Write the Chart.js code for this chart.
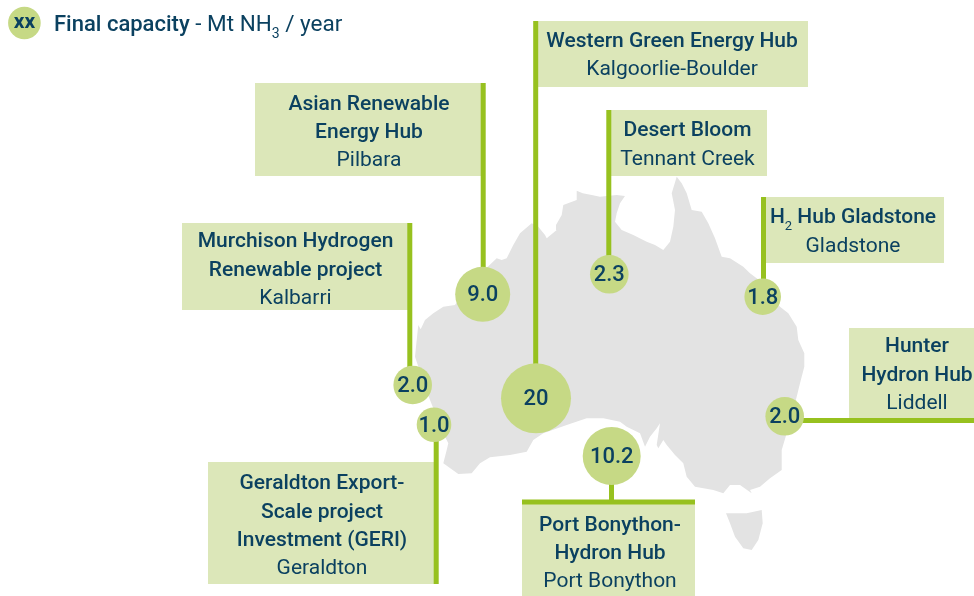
<!DOCTYPE html>
<html>
<head>
<meta charset="utf-8">
<title>Final capacity - Mt NH3 / year</title>
<script src="https://cdn.jsdelivr.net/npm/chart.js@4"></script>
<style>
html, body { margin: 0; padding: 0; background: #fff; }
canvas { display: block; }
</style>
</head>
<body>
<canvas id="mapChart" width="974" height="596"></canvas>
<script>
// capacity bubbles
var hubValues = ["9.0", "20", "2.3", "1.8", "2.0", "10.2", "2.0", "1.0"];
var hubX = [482.7, 536, 609.3, 762.7, 412.7, 611.7, 784.7, 434];
var hubY = [294.3, 398.3, 274.3, 296.7, 385, 456, 416.3, 424.7];
var hubR = [27.5, 35, 19.3, 18.3, 19.3, 29, 19.3, 17.3];

// map outline, chart units are image pixels
var mainlandX = [416,418.3,420.7,425,433.3,443.3,455,466.7,496.7,501.7,506.7,513.3,520,531.7,538.3,545,546.7,556.7,556,561.7,563.3,576.7,576.7,582.7,591.7,600,616.7,625,620,616.7,615,621.7,633.3,646.7,655,663.3,670,673.3,675,671.7,676.7,681.7,686.7,691.7,701.7,708.3,715,721.7,730,743.3,750,763.3,780,788.3,796.7,798.3,804.3,804.3,800,796.7,786.7,781.7,781.7,770,760,750,751.7,740,730,723.3,713.3,695,686.7,683.3,675,666.7,663.3,658.3,656.7,660,656.7,650,645,640,626.7,620,603.3,586.7,566.7,543.3,533.3,526.7,510,490,480,471.7,458.3,443.3,446.7,448.3,443.3,436.7,430,421.7,415];
var mainlandY = [346.7,325,329.3,320,313.3,306.7,305,286.7,258.3,260,258.3,245,233.3,223.3,226.7,235,238.3,230,225,215,205,200,190.7,193.3,195,196.7,195,196,203.3,213.3,221.7,230,235,241.7,245,250,241.7,226.7,210,193.3,176.7,183.3,193.3,210,211.7,223.3,238.3,256.7,258.3,266.7,273.3,283.3,306.7,313.3,326.7,340,353.3,366.7,383.3,396.7,433.3,450,470,478.3,486.7,490,493.3,485,485,493.3,490,486.7,476.7,463.3,455,445,440,448.3,445,423.3,428.3,436.7,446.7,433.3,426.7,421.7,418.3,418.3,425,433.3,440,451.7,455,457.3,463.3,473.3,474,463.3,450,443.3,433.3,416.7,400,376.7,356.7];
var tasmaniaX = [726,746.7,761.7,762.7,758.3,751.7,743.3,735,730];
var tasmaniaY = [513.3,513.3,510,523.3,540,550,548.3,536.7,523.3];

// leader lines [x0,y0,x1,y1]
var leaders = [
	[483.2, 83, 483.2, 290],
	[535.7, 21, 535.7, 385],
	[608.8, 110, 608.8, 270],
	[763.5, 197, 763.5, 290],
	[409.8, 223, 409.8, 380],
	[784, 420.5, 974, 420.5],
	[436.2, 430, 436.2, 584],
	[611.5, 460, 611.5, 502],
	[522, 502, 695, 502]
];

// label boxes [x0,y0,x1,y1]
var boxes = [
	[255, 83, 483, 176],
	[535, 21, 808, 87],
	[608, 110, 767, 176],
	[763, 197, 944, 263],
	[182, 223, 410, 310],
	[849, 328, 974, 420],
	[208, 462, 436, 584],
	[522, 502, 695, 596]
];

// label text: _n marks a subscript, * marks the bold lines
var labelX = [369, 672, 687.5, 853, 295.5, 917, 322, 610];
var labelY = [105, 41.5, 131, 218, 242, 347, 484, 526];
var labelStep = [28, 28, 28.5, 29, 28.5, 28.5, 28.3, 28];
var labelLines = [
	["*Asian Renewable", "*Energy Hub", "Pilbara"],
	["*Western Green Energy Hub", "Kalgoorlie-Boulder"],
	["*Desert Bloom", "Tennant Creek"],
	["*H_2 Hub Gladstone", "Gladstone"],
	["*Murchison Hydrogen", "*Renewable project", "Kalbarri"],
	["*Hunter", "*Hydron Hub", "Liddell"],
	["*Geraldton Export-", "*Scale project", "*Investment (GERI)", "Geraldton"],
	["*Port Bonython-", "*Hydron Hub", "Port Bonython"]
];

var legendBubble = {x: 24.4, y: 23, r: 16.3};
var legendMark = "xx";
var legendBold = "Final capacity";
var legendRest = [" - Mt NH", "3", " / year"];

var INK = "#0b4160";
var FONT = "Roboto, sans-serif";

function pts(xs, ys) {
	return xs.map(function(x, i) { return {x: x, y: ys[i]}; });
}

function textWidthOf(ctx, parts) {
	var w = 0;
	for (var i = 0; i < parts.length; i++) {
		ctx.font = parts[i].font;
		w += ctx.measureText(parts[i].t).width;
	}
	return w;
}

function splitLine(line) {
	var bold = line.charAt(0) == "*";
	var txt = bold ? line.substring(1) : line;
	var main = (bold ? "500" : "400") + " 21px " + FONT;
	var sub = "400 13px " + FONT;
	var m = txt.match(/^(.*?)_(\d)(.*)$/);
	if (!m) return [{t: txt, font: main, dy: 0}];
	return [{t: m[1], font: main, dy: 0}, {t: m[2], font: sub, dy: 9}, {t: m[3], font: main, dy: 0}];
}

var mapBoxes = {
	id: "mapBoxes",
	beforeDatasetsDraw: function(chart) {
		var ctx = chart.ctx, sx = chart.scales.x, sy = chart.scales.y;
		ctx.save();
		ctx.fillStyle = "#dce7b9";
		boxes.forEach(function(b) {
			var x0 = sx.getPixelForValue(b[0]), y0 = sy.getPixelForValue(b[1]);
			ctx.fillRect(x0, y0, sx.getPixelForValue(b[2]) - x0, sy.getPixelForValue(b[3]) - y0);
		});
		ctx.restore();
	},
	afterDatasetsDraw: function(chart) {
		var ctx = chart.ctx, sx = chart.scales.x, sy = chart.scales.y;
		ctx.save();
		ctx.fillStyle = INK;
		ctx.textBaseline = "middle";

		// boxes
		ctx.textAlign = "left";
		labelLines.forEach(function(lines, i) {
			lines.forEach(function(line, j) {
				var parts = splitLine(line);
				var x = sx.getPixelForValue(labelX[i]) - textWidthOf(ctx, parts) / 2;
				var y = sy.getPixelForValue(labelY[i] + j * labelStep[i]);
				parts.forEach(function(p) {
					ctx.font = p.font;
					ctx.fillText(p.t, x, y + p.dy);
					x += ctx.measureText(p.t).width;
				});
			});
		});

		// bubble values
		ctx.textAlign = "center";
		ctx.font = "500 22px " + FONT;
		hubValues.forEach(function(v, i) {
			ctx.fillText(v, sx.getPixelForValue(hubX[i]), sy.getPixelForValue(hubY[i]) + 1.5);
		});

		// legend
		ctx.font = "700 21px " + FONT;
		ctx.fillText(legendMark, sx.getPixelForValue(legendBubble.x), sy.getPixelForValue(legendBubble.y));
		ctx.textAlign = "left";
		var x = 54, y = 25;
		ctx.font = "500 22px " + FONT;
		ctx.fillText(legendBold, x, y);
		x += ctx.measureText(legendBold).width;
		ctx.font = "400 22.5px " + FONT;
		ctx.fillText(legendRest[0], x, y);
		x += ctx.measureText(legendRest[0]).width;
		ctx.font = "400 14px " + FONT;
		ctx.fillText(legendRest[1], x, y + 9);
		x += ctx.measureText(legendRest[1]).width;
		ctx.font = "400 22.5px " + FONT;
		ctx.fillText(legendRest[2], x, y);
		ctx.restore();
	}
};

var datasets = [];
[[mainlandX, mainlandY], [tasmaniaX, tasmaniaY]].forEach(function(o) {
	datasets.push({
		type: "line",
		data: pts(o[0], o[1]),
		borderWidth: 0,
		borderColor: "#e3e3e3",
		backgroundColor: "#e3e3e3",
		fill: "shape",
		pointRadius: 0,
		tension: 0,
		order: 3
	});
});
leaders.forEach(function(l) {
	datasets.push({
		type: "line",
		data: [{x: l[0], y: l[1]}, {x: l[2], y: l[3]}],
		borderColor: "#97c11f",
		borderWidth: 5,
		borderCapStyle: "butt",
		pointRadius: 0,
		fill: false,
		order: 2
	});
});
datasets.push({
	type: "bubble",
	data: hubX.map(function(x, i) { return {x: x, y: hubY[i], r: hubR[i]}; }).concat([legendBubble]),
	backgroundColor: "#c6d985",
	borderWidth: 0,
	hoverRadius: 0,
	order: 1
});

new Chart(document.getElementById("mapChart").getContext("2d"), {
	type: "scatter",
	data: {datasets: datasets},
	options: {
		responsive: false,
		animation: false,
		events: [],
		layout: {padding: 0, autoPadding: false},
		plugins: {legend: {display: false}, tooltip: {enabled: false}},
		scales: {
			x: {type: "linear", min: 0, max: 974, display: false},
			y: {type: "linear", min: 0, max: 596, reverse: true, display: false}
		}
	},
	plugins: [mapBoxes]
});
</script>
</body>
</html>
